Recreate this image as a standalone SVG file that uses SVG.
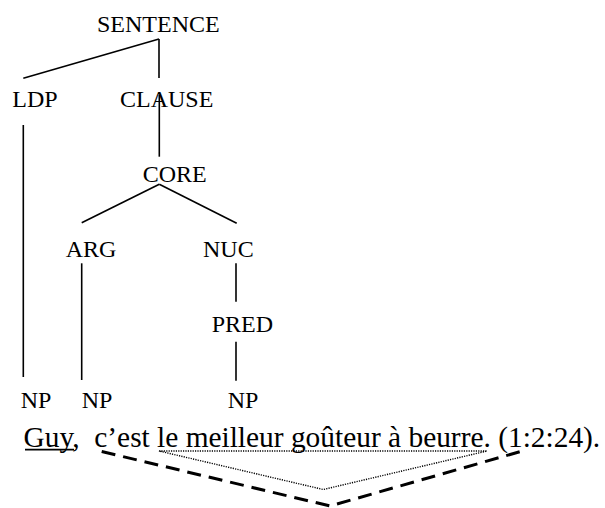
<svg xmlns="http://www.w3.org/2000/svg" width="605" height="508" viewBox="0 0 605 508">
<style>
  .lbl { font-family: "Liberation Serif", "Times New Roman", serif; font-size: 24px; fill: #000; }
  .sent { font-family: "Liberation Serif", "Times New Roman", serif; font-size: 29.4px; fill: #000; }
  .edge { stroke: #000; stroke-width: 1.6; fill: none; stroke-linecap: butt; }
  .dash { stroke: #000; stroke-width: 3; fill: none; stroke-dasharray: 14 8; }
  .dot { stroke: #000; stroke-width: 1.4; fill: none; stroke-dasharray: 1.2 1.2; }
</style>
<rect width="605" height="508" fill="#fff"/>
<g id="connectors">
  <line class="edge" x1="159" y1="39" x2="23.3" y2="78.3"/>
  <line class="edge" x1="159" y1="39" x2="159" y2="78"/>
  <line class="edge" x1="159.3" y1="95" x2="159.3" y2="156.7"/>
  <line class="edge" x1="159.3" y1="184.3" x2="81.7" y2="222.7"/>
  <line class="edge" x1="159.3" y1="184.3" x2="236.7" y2="223.3"/>
  <line class="edge" x1="23.3" y1="125" x2="23.3" y2="377"/>
  <line class="edge" x1="81.7" y1="263.3" x2="81.7" y2="380"/>
  <line class="edge" x1="236" y1="263.3" x2="236" y2="301.7"/>
  <line class="edge" x1="236" y1="341.7" x2="236" y2="380.7"/>
</g>
<g id="n-sentence"><text class="lbl" x="97" y="32">SENTENCE</text></g>
<g id="n-ldp"><text class="lbl" x="12.3" y="107">LDP</text></g>
<g id="n-clause"><text class="lbl" x="120" y="107">CLAUSE</text></g>
<g id="n-core"><text class="lbl" x="142.7" y="181.7">CORE</text></g>
<g id="n-arg"><text class="lbl" x="65.7" y="256.7">ARG</text></g>
<g id="n-nuc"><text class="lbl" x="203" y="256.7">NUC</text></g>
<g id="n-pred"><text class="lbl" x="211.7" y="331.7">PRED</text></g>
<g id="n-np1"><text class="lbl" x="20.7" y="407.5">NP</text></g>
<g id="n-np2"><text class="lbl" x="81.7" y="407.5">NP</text></g>
<g id="n-np3"><text class="lbl" x="227.7" y="407.5">NP</text></g>
<g id="sentence">
  <text class="sent" x="23.5" y="446.5" xml:space="preserve">Guy,  c’est le meilleur goûteur à beurre. (1:2:24).</text>
  <line x1="25" y1="449.6" x2="74" y2="449.6" stroke="#000" stroke-width="1.8"/>
</g>
<g id="brackets">
  <polygon class="dot" points="159,451 487,451 323.3,489.5"/>
  <polyline class="dash" points="101.7,451.5 330,506 523.3,450.7"/>
</g>
</svg>
